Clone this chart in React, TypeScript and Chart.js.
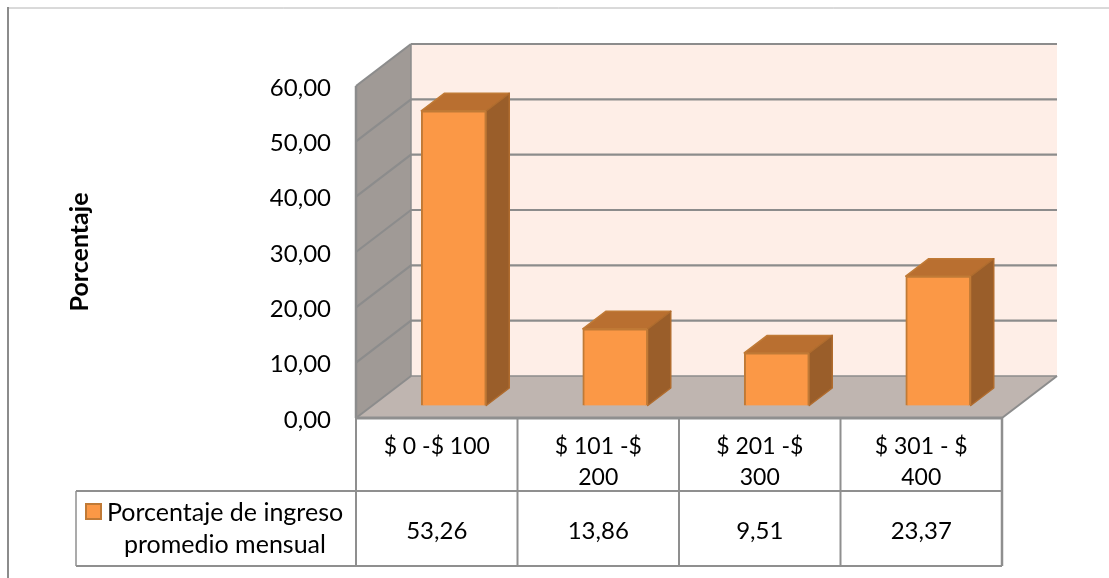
import React, { useEffect, useRef } from "react";
import { Chart, registerables } from "chart.js";

Chart.register(...registerables);

const categories: string[][] = [["$ 0 -$ 100"], ["$ 101 -$", "200"], ["$ 201 -$", "300"], ["$ 301 - $", "400"]];
const seriesName: string[] = ["Porcentaje de ingreso", "promedio mensual"];
const seriesValues: number[] = [53.26, 13.86, 9.51, 23.37];
const axisTitle = "Porcentaje";

const W = 1109;
const H = 578;
const FONT = "Lato, Carlito, Calibri, sans-serif";
const comma = (v: number) => v.toFixed(2).replace(".", ",");

const WALL_DX = 55;
const WALL_DY = 42;
const BAR_SHIFT_X = 17;
const BAR_SHIFT_Y = 12.5;
const BAR_DX = 23;
const BAR_DY = 17.5;
const ROW1 = 491;
const ROW2 = 566;
const TABLE_LEFT = 76;

function poly(ctx: CanvasRenderingContext2D, pts: number[][], fill: string, stroke?: string, lw = 2) {
  ctx.beginPath();
  pts.forEach((p, i) => (i ? ctx.lineTo(p[0], p[1]) : ctx.moveTo(p[0], p[1])));
  ctx.closePath();
  ctx.fillStyle = fill;
  ctx.fill();
  if (stroke) {
    ctx.strokeStyle = stroke;
    ctx.lineWidth = lw;
    ctx.lineJoin = "round";
    ctx.stroke();
  }
}

function line(ctx: CanvasRenderingContext2D, x1: number, y1: number, x2: number, y2: number, color: string, lw: number) {
  ctx.beginPath();
  ctx.moveTo(x1, y1);
  ctx.lineTo(x2, y2);
  ctx.strokeStyle = color;
  ctx.lineWidth = lw;
  ctx.stroke();
}

const scene3d = {
  id: "scene3d",
  beforeDatasetsDraw(chart: any) {
    const { ctx, chartArea: a, scales } = chart;
    const y = scales.y;
    const L = a.left, R = a.right, T = a.top, B = a.bottom;
    const grid = "#8c8c8c";

    // frame of the picture
    line(ctx, 8, 8, W, 8, "#b4b4b4", 1);
    line(ctx, 8, 7, 8, H, "#8c8c8c", 2);

    // walls and floor
    poly(ctx, [[L + WALL_DX, T - WALL_DY], [R + WALL_DX, T - WALL_DY], [R + WALL_DX, B - WALL_DY], [L + WALL_DX, B - WALL_DY]], "#feeee7");
    poly(ctx, [[L, T], [L + WALL_DX, T - WALL_DY], [L + WALL_DX, B - WALL_DY], [L, B]], "#a09a96");
    poly(ctx, [[L, B], [L + WALL_DX, B - WALL_DY], [R + WALL_DX, B - WALL_DY], [R, B]], "#bfb5b0");

    y.ticks.forEach((t: any) => {
      const py = y.getPixelForValue(t.value);
      if (t.value > y.min) {
        line(ctx, L, py, L + WALL_DX, py - WALL_DY, grid, 2.2);
        line(ctx, L + WALL_DX, py - WALL_DY, R + WALL_DX, py - WALL_DY, grid, 2.2);
      }
    });
    line(ctx, L, B, L + WALL_DX, B - WALL_DY, grid, 2);
    line(ctx, L + WALL_DX, B - WALL_DY, L + WALL_DX, T - WALL_DY, grid, 1.5);
    line(ctx, L + WALL_DX, B - WALL_DY, R + WALL_DX, B - WALL_DY, grid, 1.5);
    line(ctx, R, B, R + WALL_DX, B - WALL_DY, grid, 2);
    line(ctx, L, B, L, T, grid, 2.5);

    // bars: depth faces, then the library draws the front faces in the same shift
    ctx.save();
    ctx.translate(BAR_SHIFT_X, -BAR_SHIFT_Y);
    chart.getDatasetMeta(0).data.forEach((bar: any) => {
      const x1 = bar.x - bar.width / 2;
      const x2 = bar.x + bar.width / 2;
      poly(ctx, [[x1, bar.y], [x1 + BAR_DX, bar.y - BAR_DY], [x2 + BAR_DX, bar.y - BAR_DY], [x2, bar.y]], "#b96f30", "#c07a36", 1.5);
      poly(ctx, [[x2, bar.y], [x2 + BAR_DX, bar.y - BAR_DY], [x2 + BAR_DX, bar.base - BAR_DY], [x2, bar.base]], "#9a5e2a", "#b06c2e", 1.5);
    });
  },
  afterDatasetsDraw(chart: any) {
    const { ctx, chartArea: a, scales } = chart;
    ctx.restore();
    const x = scales.x;
    const L = a.left, R = a.right, B = a.bottom;
    const border = "#8f8f8f";

    // data table
    line(ctx, L, B, R, B, border, 3);
    const edges = [L, ...categories.map((_, i) => (i === categories.length - 1 ? R : (x.getPixelForValue(i) + x.getPixelForValue(i + 1)) / 2))];
    edges.forEach((px, i) => line(ctx, px, B, px, ROW2, border, i === edges.length - 1 ? 2.5 : 2));
    line(ctx, TABLE_LEFT, ROW1, R, ROW1, border, 2);
    line(ctx, TABLE_LEFT, ROW2, R, ROW2, border, 2);
    line(ctx, TABLE_LEFT, ROW1, TABLE_LEFT, ROW2, border, 1.5);

    ctx.fillStyle = "#000";
    ctx.textBaseline = "middle";
    ctx.font = `24px ${FONT}`;
    ctx.textAlign = "center";
    seriesValues.forEach((v, i) => ctx.fillText(comma(v), x.getPixelForValue(i), 531));

    // legend key inside the table
    ctx.fillStyle = "#fb9846";
    ctx.strokeStyle = "#c07a36";
    ctx.lineWidth = 2;
    ctx.fillRect(86, 504, 15, 15);
    ctx.strokeRect(86, 504, 15, 15);
    ctx.fillStyle = "#000";
    ctx.textAlign = "left";
    ctx.font = `25px ${FONT}`;
    ctx.fillText(seriesName[0], 107, 513);
    ctx.fillText(seriesName[1], 124, 545);
  },
};

export default function App() {
  const ref = useRef<HTMLCanvasElement>(null);
  useEffect(() => {
    const chart = new Chart(ref.current!, {
      type: "bar",
      data: {
        labels: categories,
        datasets: [
          {
            label: seriesName.join(" "),
            data: seriesValues,
            backgroundColor: "#fb9846",
            borderColor: "#c07a36",
            borderWidth: 2,
            barThickness: 65,
            clip: false,
          } as any,
        ],
      },
      options: {
        animation: false,
        responsive: false,
        devicePixelRatio: 1,
        layout: { padding: { left: 65, right: 107, top: 86, bottom: 12 } },
        plugins: { legend: { display: false }, tooltip: { enabled: false } },
        scales: {
          x: {
            grid: { display: false },
            border: { display: false },
            ticks: { color: "#000", font: { family: FONT, size: 23, lineHeight: 1.35 }, padding: 5, maxRotation: 0, autoSkip: false },
            afterFit: (s: any) => { s.height = 148; },
          },
          y: {
            min: 0,
            max: 60,
            grid: { display: false },
            border: { display: false },
            ticks: { stepSize: 10, color: "#000", font: { family: FONT, size: 24 }, padding: 17, labelOffset: 2, callback: (v: any) => comma(Number(v)) },
            title: { display: true, text: axisTitle, color: "#000", font: { family: FONT, size: 25, weight: "bold" }, padding: 0 },
            afterFit: (s: any) => { s.width = 291; },
          },
        },
      },
      plugins: [scene3d],
    } as any);
    return () => chart.destroy();
  }, []);
  return (
    <div style={{ position: "fixed", left: 0, top: 0, width: W, height: H, background: "#fff" }}>
      <canvas ref={ref} width={W} height={H} style={{ display: "block" }} />
    </div>
  );
}
